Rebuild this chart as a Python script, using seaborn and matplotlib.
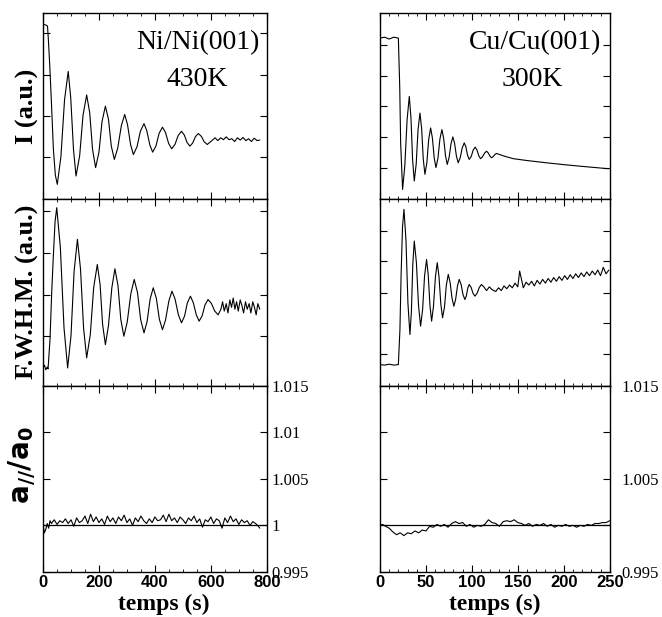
import matplotlib
matplotlib.use("Agg")
import matplotlib.pyplot as plt
from matplotlib.ticker import MultipleLocator
import seaborn as sns

# Ni/Ni(001) 430K  -- time (s) and intensity / FWHM in arbitrary units (fraction of panel)
ni_t_I = [0, 10, 16, 19, 24, 30, 37, 44, 51, 64, 77, 90, 99, 109, 118, 131, 143, 156,
          167, 177, 188, 200, 211, 223, 234, 244, 255, 267, 280, 292, 302, 313, 323,
          336, 348, 361, 371, 382, 392, 404, 415, 427, 438, 449, 460, 472, 483, 495,
          505, 515, 525, 535, 545, 555, 566, 576, 587, 600, 615, 625, 635, 645, 655,
          665, 675, 685, 695, 705, 715, 725, 735, 745, 755, 765, 775]
ni_I = [0.94, 0.935, 0.93, 0.86, 0.72, 0.52, 0.27, 0.13, 0.08, 0.23, 0.535, 0.686,
        0.546, 0.265, 0.125, 0.234, 0.451, 0.56, 0.463, 0.268, 0.17, 0.253, 0.418,
        0.50, 0.429, 0.286, 0.214, 0.274, 0.395, 0.455, 0.401, 0.294, 0.24, 0.282,
        0.365, 0.406, 0.368, 0.291, 0.253, 0.287, 0.354, 0.387, 0.358, 0.30, 0.271,
        0.295, 0.342, 0.365, 0.345, 0.305, 0.285, 0.302, 0.336, 0.353, 0.338, 0.309,
        0.294, 0.31, 0.33, 0.315, 0.33, 0.32, 0.335, 0.32, 0.325, 0.31, 0.33, 0.318,
        0.332, 0.315, 0.325, 0.31, 0.328, 0.315, 0.318]

ni_t_W = [0, 5, 10, 15, 18, 25, 31, 37, 43, 49, 62, 75, 88, 100, 111, 123, 134, 145,
          156, 169, 181, 194, 204, 213, 223, 234, 246, 257, 268, 278, 289, 301, 314,
          326, 338, 349, 361, 372, 383, 394, 405, 416, 427, 438, 450, 461, 472, 484,
          495, 506, 516, 527, 537, 548, 558, 569, 579, 590, 602, 614, 626, 636, 642,
          648, 655, 661, 668, 674, 680, 686, 692, 698, 705, 711, 717, 724, 730, 737,
          743, 750, 756, 762, 768, 775]
ni_W = [0.095, 0.11, 0.085, 0.10, 0.09, 0.25, 0.5, 0.7, 0.88, 0.955, 0.74, 0.31, 0.095,
        0.268, 0.612, 0.785, 0.626, 0.308, 0.149, 0.274, 0.525, 0.65, 0.543, 0.328,
        0.22, 0.322, 0.525, 0.627, 0.537, 0.356, 0.265, 0.341, 0.494, 0.57, 0.498,
        0.355, 0.283, 0.344, 0.465, 0.525, 0.469, 0.356, 0.30, 0.352, 0.455, 0.507,
        0.465, 0.38, 0.337, 0.373, 0.444, 0.48, 0.446, 0.38, 0.346, 0.375, 0.433,
        0.462, 0.441, 0.40, 0.38, 0.41, 0.45, 0.40, 0.44, 0.39, 0.46, 0.42, 0.47,
        0.41, 0.45, 0.40, 0.46, 0.43, 0.39, 0.45, 0.41, 0.44, 0.39, 0.45, 0.42, 0.38,
        0.44, 0.41]

ni_t_a = [0, 5, 10, 15, 20, 25, 30, 40, 50, 60, 70, 80, 90, 100, 110, 120, 130, 140,
          150, 160, 170, 180, 190, 200, 210, 220, 230, 240, 250, 260, 270, 280, 290,
          300, 310, 320, 330, 340, 350, 360, 370, 380, 390, 400, 410, 420, 430, 440,
          450, 460, 470, 480, 490, 500, 510, 520, 530, 540, 550, 560, 570, 580, 590,
          600, 610, 620, 630, 640, 650, 660, 670, 680, 690, 700, 710, 720, 730, 740,
          750, 760, 770, 775]
ni_a = [1.0000, 0.9992, 0.9996, 1.0002, 0.9997, 1.0005, 1.0002, 1.0006, 1.0001, 1.0005,
        1.0003, 1.0007, 1.0002, 1.0006, 0.9999, 1.0008, 1.0003, 1.0005, 1.0010, 1.0002,
        1.0012, 1.0004, 1.0009, 1.0003, 1.0007, 1.0001, 1.0010, 1.0004, 1.0008, 1.0002,
        1.0009, 1.0005, 1.0011, 1.0003, 1.0007, 1.0000, 1.0008, 1.0004, 1.0010, 1.0005,
        1.0002, 1.0007, 1.0003, 1.0009, 1.0005, 1.0006, 1.0011, 1.0004, 1.0012, 1.0005,
        1.0008, 1.0003, 1.0009, 1.0006, 1.0002, 1.0008, 1.0005, 1.0010, 1.0003, 1.0007,
        0.9998, 1.0006, 1.0004, 1.0009, 1.0002, 1.0007, 1.0005, 0.9997, 1.0008, 1.0003,
        1.0010, 1.0004, 1.0007, 1.0001, 1.0006, 1.0003, 1.0005, 1.0000, 1.0004, 1.0002,
        0.9999, 0.9997]

# Cu/Cu(001) 300K
cu_t_I = [0, 5, 10, 15, 20, 21.5, 22.5, 24.6, 27.0, 29.5, 31.9, 33.7, 35.5, 37.3, 39.4,
          41.4, 43.5, 45.3, 47.1, 48.9, 51.0, 53.0, 55.1, 57.0, 59.0, 60.9, 63.1, 65.2,
          67.4, 69.3, 71.3, 73.2, 75.2, 77.3, 79.3, 81.2, 83.2, 85.1, 87.3, 89.5, 91.7,
          93.5, 95.3, 97.1, 99.3, 101.4, 103.6, 105.5, 107.5, 109.4, 111.6, 113.8, 116,
          117.8, 119.6, 121.4, 123.2, 125.0, 126.8, 135, 145, 160, 181, 200, 217, 235,
          249]
cu_I = [0.865, 0.87, 0.86, 0.87, 0.865, 0.6, 0.3, 0.053, 0.178, 0.427, 0.552, 0.438,
        0.212, 0.098, 0.189, 0.372, 0.463, 0.381, 0.216, 0.134, 0.196, 0.321, 0.383,
        0.33, 0.223, 0.17, 0.221, 0.323, 0.374, 0.327, 0.234, 0.187, 0.224, 0.298,
        0.335, 0.30, 0.231, 0.196, 0.223, 0.276, 0.303, 0.281, 0.236, 0.214, 0.23,
        0.264, 0.28, 0.265, 0.234, 0.218, 0.228, 0.248, 0.258, 0.249, 0.232, 0.223,
        0.229, 0.24, 0.246, 0.232, 0.218, 0.208, 0.196, 0.186, 0.178, 0.17, 0.164]

cu_t_W = [0, 5, 10, 15, 20, 21.7, 23, 24.5, 26.1, 28.3, 30.4, 32.6, 34.2, 35.7, 37.3,
          39.6, 41.9, 44.2, 46.4, 48.5, 50.7, 52.5, 54.4, 56.2, 58.2, 60.3, 62.3, 64.2,
          66.2, 68.1, 70.2, 72.2, 74.3, 76.3, 78.4, 80.4, 82.3, 84.3, 86.2, 88.3, 90.3,
          92.4, 94.0, 95.5, 97.1, 99.2, 101.2, 103.3, 105.7, 108.1, 110.5, 113, 116,
          119, 122, 126, 129, 132, 135, 138, 141, 144, 147, 150, 152, 156, 159, 162,
          165, 168, 171, 174, 177, 180, 183, 186, 189, 192, 195, 198, 201, 204, 207,
          210, 213, 216, 219, 222, 225, 228, 231, 234, 237, 240, 243, 246, 249]
cu_W = [0.113, 0.11, 0.115, 0.11, 0.113, 0.3, 0.6, 0.85, 0.946, 0.778, 0.442, 0.274,
        0.40, 0.65, 0.776, 0.662, 0.433, 0.319, 0.409, 0.588, 0.677, 0.594, 0.429,
        0.346, 0.425, 0.582, 0.66, 0.586, 0.438, 0.364, 0.422, 0.539, 0.597, 0.554,
        0.469, 0.426, 0.462, 0.534, 0.57, 0.543, 0.489, 0.462, 0.482, 0.523, 0.543,
        0.527, 0.496, 0.48, 0.496, 0.527, 0.543, 0.53, 0.51, 0.53, 0.515, 0.505, 0.525,
        0.51, 0.535, 0.52, 0.54, 0.525, 0.55, 0.53, 0.615, 0.525, 0.555, 0.54, 0.56,
        0.535, 0.565, 0.545, 0.57, 0.55, 0.575, 0.555, 0.58, 0.56, 0.585, 0.565, 0.59,
        0.57, 0.595, 0.575, 0.60, 0.58, 0.605, 0.585, 0.61, 0.59, 0.615, 0.595, 0.62,
        0.59, 0.635, 0.60, 0.62]

cu_t_a = [0, 3, 6, 10, 14, 18, 22, 26, 30, 34, 38, 42, 46, 50, 54, 58, 62, 66, 70, 74,
          78, 82, 86, 90, 94, 98, 102, 106, 110, 114, 118, 122, 126, 130, 134, 138, 142,
          146, 150, 154, 158, 162, 166, 170, 174, 178, 182, 186, 190, 194, 198, 202, 206,
          210, 214, 218, 222, 226, 230, 234, 238, 242, 246, 250]
cu_a = [1.0000, 1.0001, 0.9999, 0.9997, 0.9993, 0.9990, 0.9992, 0.9989, 0.9992, 0.9991,
        0.9994, 0.9992, 0.9995, 0.9994, 0.9999, 0.9998, 1.0001, 0.9999, 1.0001, 0.9998,
        1.0002, 1.0004, 1.0002, 1.0003, 0.9999, 1.0001, 0.9998, 1.0000, 0.9999, 1.0001,
        1.0006, 1.0003, 1.0002, 0.9999, 1.0004, 1.0005, 1.0004, 1.0006, 1.0003, 1.0002,
        1.0000, 1.0002, 0.9999, 1.0001, 1.0000, 1.0002, 0.9999, 1.0001, 0.9998, 1.0000,
        0.9999, 1.0001, 0.9999, 1.0000, 0.9998, 1.0000, 0.9999, 1.0001, 1.0000, 1.0002,
        1.0002, 1.0003, 1.0003, 1.0005]

ni_ticks_I = [0.225, 0.446, 0.668, 0.89]
ni_ticks_W = [0.265, 0.489, 0.713, 0.937]
cu_ticks_I = [0.166, 0.335, 0.499, 0.659, 0.829]
cu_ticks_W = [0.172, 0.337, 0.498, 0.668, 0.83]
a_ticks = [0.995, 1.0, 1.005, 1.01, 1.015]
ni_a_labels = ["0.995", "1", "1.005", "1.01", "1.015"]
cu_a_labels = ["0.995", "", "1.005", "", "1.015"]
ni_xticks = [0, 200, 400, 600, 800]
cu_xticks = [0, 50, 100, 150, 200, 250]

sns.set_theme(style="white")
plt.rcParams["axes.edgecolor"] = "black"
plt.rcParams["axes.linewidth"] = 1.0
plt.rcParams["text.color"] = "black"
plt.rcParams["xtick.color"] = "black"
plt.rcParams["ytick.color"] = "black"
plt.rcParams["mathtext.fontset"] = "dejavusans"

fig = plt.figure(figsize=(6.62, 6.17), dpi=100)

serif = "Liberation Serif"
sans = "Liberation Sans"

def make_panel(rect, x, y, xmax, xticks, xminor, yticks, ylim):
    ax = fig.add_axes(rect)
    sns.lineplot(x=x, y=y, ax=ax, color="black", linewidth=0.8, sort=False, estimator=None)
    ax.set(xlabel="", ylabel="")
    ax.set_xlim(0, xmax)
    ax.set_ylim(*ylim)
    ax.set_xticks(xticks)
    ax.xaxis.set_minor_locator(MultipleLocator(xminor))
    ax.set_yticks(yticks)
    ax.tick_params(which="both", direction="in", top=True, right=True, left=True, bottom=True,
                   labelleft=False, labelbottom=False, colors="black")
    ax.tick_params(which="major", length=5, width=0.8)
    ax.tick_params(which="minor", length=2.5, width=0.6)
    return ax

col_x = [0.065, 0.574]
col_w = [0.338, 0.347]
row_y = [0.677, 0.375, 0.073]
row_h = 0.302

ax1 = make_panel([col_x[0], row_y[0], col_w[0], row_h], ni_t_I, ni_I, 800, ni_xticks, 50, ni_ticks_I, (0, 1))
ax2 = make_panel([col_x[0], row_y[1], col_w[0], row_h], ni_t_W, ni_W, 800, ni_xticks, 50, ni_ticks_W, (0, 1))
ax3 = make_panel([col_x[0], row_y[2], col_w[0], row_h], ni_t_a, ni_a, 800, ni_xticks, 50, a_ticks, (0.995, 1.015))
ax4 = make_panel([col_x[1], row_y[0], col_w[1], row_h], cu_t_I, cu_I, 250, cu_xticks, 10, cu_ticks_I, (0, 1))
ax5 = make_panel([col_x[1], row_y[1], col_w[1], row_h], cu_t_W, cu_W, 250, cu_xticks, 10, cu_ticks_W, (0, 1))
ax6 = make_panel([col_x[1], row_y[2], col_w[1], row_h], cu_t_a, cu_a, 250, cu_xticks, 10, a_ticks, (0.995, 1.015))

for ax, xt, ylab, pad in [(ax3, ni_xticks, ni_a_labels, 3.5), (ax6, cu_xticks, cu_a_labels, 8.5)]:
    ax.axhline(1.0, color="black", linewidth=0.9)
    ax.set_xticks(xt, labels=[str(v) for v in xt], fontfamily=sans, fontweight="bold", fontsize=12)
    ax.set_yticks(a_ticks, labels=ylab, fontfamily=serif, fontsize=12)
    ax.tick_params(axis="x", labelbottom=True, pad=2)
    ax.tick_params(axis="y", labelright=True, labelleft=False, pad=pad)

ax1.text(0.692, 0.84, "Ni/Ni(001)", transform=ax1.transAxes, ha="center", va="center",
         fontfamily=serif, fontsize=20)
ax1.text(0.688, 0.642, "430K", transform=ax1.transAxes, ha="center", va="center",
         fontfamily=serif, fontsize=20)
ax4.text(0.674, 0.84, "Cu/Cu(001)", transform=ax4.transAxes, ha="center", va="center",
         fontfamily=serif, fontsize=20)
ax4.text(0.665, 0.642, "300K", transform=ax4.transAxes, ha="center", va="center",
         fontfamily=serif, fontsize=20)

fig.text(0.041, 0.828, "I (a.u.)", rotation=90, ha="center", va="center",
         fontfamily=serif, fontweight="bold", fontsize=19)
fig.text(0.041, 0.527, "F.W.H.M. (a.u.)", rotation=90, ha="center", va="center",
         fontfamily=serif, fontweight="bold", fontsize=19)
fig.text(0.033, 0.246, r"$\mathbf{a_{//}/a_{0}}$", rotation=90, ha="center", va="center",
         fontsize=20)
fig.text(164 / 662, 0.012, "temps (s)", ha="center", va="baseline",
         fontfamily=serif, fontweight="bold", fontsize=17)
fig.text(495 / 662, 0.012, "temps (s)", ha="center", va="baseline",
         fontfamily=serif, fontweight="bold", fontsize=17)

fig.savefig("out.png", dpi=100, facecolor="white")
